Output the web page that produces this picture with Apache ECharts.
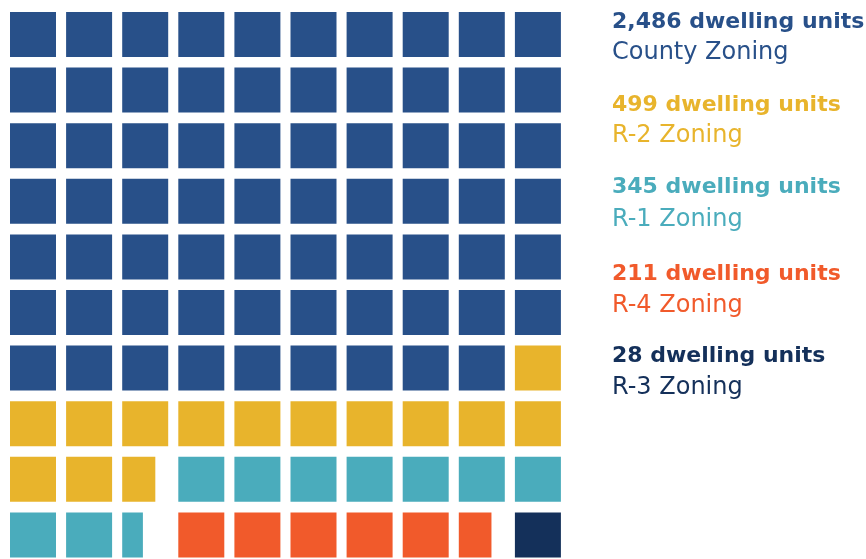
<!DOCTYPE html>
<html><head><meta charset="utf-8">
<script src="https://cdn.jsdelivr.net/npm/echarts@6/dist/echarts.min.js"></script>
<style>html,body{margin:0;padding:0;background:#fff}#c{width:866px;height:559px}</style>
</head><body><div id="c"></div>
<script>
// Categories and values
const zones = ['County Zoning', 'R-2 Zoning', 'R-1 Zoning', 'R-4 Zoning', 'R-3 Zoning'];
const units = [2486, 499, 345, 211, 28];
const colors = ['#285089', '#E8B42C', '#4AACBC', '#F15A2B', '#14305A'];
// Waffle segments per category: [row, startCol, widthInCells] (fractional width = partial square)
const countyCells = [[0,0,10],[1,0,10],[2,0,10],[3,0,10],[4,0,10],[5,0,10],[6,0,9]];
const r2Cells = [[6,9,1],[7,0,10],[8,0,2.72]];
const r1Cells = [[8,3,7],[9,0,2.45]];
const r4Cells = [[9,3,5.71]];
const r3Cells = [[9,9,1]];
const segments = [countyCells, r2Cells, r1Cells, r4Cells, r3Cells];

const data = [];
segments.forEach((segs, ci) => {
  segs.forEach(([row, start, w]) => {
    for (let k = 0; k < Math.ceil(w - 1e-9); k++) {
      data.push([start + k, row, Math.min(1, w - k), ci]);
    }
  });
});

const chart = echarts.init(document.getElementById('c'), null, {renderer: 'canvas'});
const GAPX = 10.1, GAPY = 10.6;
const graphics = [];
const line1Y = [33, 116, 198, 285, 367];
const line2Y = [65, 148, 232, 318, 400];
zones.forEach((z, i) => {
  graphics.push({type: 'text', x: 612, y: line1Y[i], style: {
    text: units[i].toLocaleString('en-US') + ' dwelling units', fill: colors[i],
    font: 'bold 22px "DejaVu Sans"', verticalAlign: 'bottom'}});
  graphics.push({type: 'text', x: 612, y: line2Y[i], style: {
    text: z, fill: colors[i], font: '24px "DejaVu Sans"', verticalAlign: 'bottom'}});
});

chart.setOption({
  animation: false,
  grid: {left: 10, top: 12, width: 504.9, height: 500.4},
  xAxis: {type: 'value', min: 0, max: 9, show: false},
  yAxis: {type: 'value', min: 0, max: 9, inverse: true, show: false},
  graphic: graphics,
  series: [{
    type: 'custom',
    data: data,
    clip: false,
    renderItem: function (params, api) {
      const p = api.coord([api.value(0), api.value(1)]);
      const s = api.size([1, 1]);
      const frac = api.value(2);
      return {type: 'rect', shape: {x: p[0], y: p[1], width: (s[0] - GAPX) * frac, height: s[1] - GAPY},
        style: {fill: colors[api.value(3)]}};
    }
  }]
});
</script></body></html>
